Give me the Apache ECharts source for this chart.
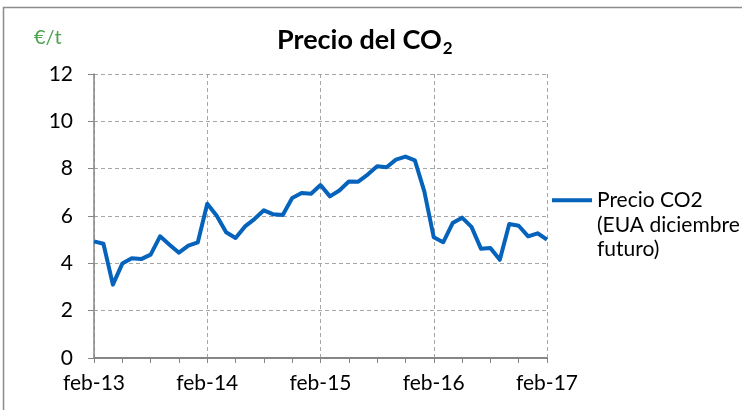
<!DOCTYPE html>
<html>
<head>
<meta charset="utf-8">
<script src="https://cdn.jsdelivr.net/npm/echarts@6/dist/echarts.min.js"></script>
<style>
    html, body { margin: 0; padding: 0; background: #fff; }
    #chart { width: 742px; height: 410px; }
</style>
</head>
<body>
<div id="chart"></div>
<script>
    // meses feb-13 .. feb-17
    var categorias = [
        'feb-13','mar-13','abr-13','may-13','jun-13','jul-13','ago-13','sep-13','oct-13','nov-13','dic-13','ene-14',
        'feb-14','mar-14','abr-14','may-14','jun-14','jul-14','ago-14','sep-14','oct-14','nov-14','dic-14','ene-15',
        'feb-15','mar-15','abr-15','may-15','jun-15','jul-15','ago-15','sep-15','oct-15','nov-15','dic-15','ene-16',
        'feb-16','mar-16','abr-16','may-16','jun-16','jul-16','ago-16','sep-16','oct-16','nov-16','dic-16','ene-17',
        'feb-17'
    ];
    var precioCO2 = [
        4.93, 4.83, 3.10, 3.99, 4.21, 4.18, 4.37, 5.14, 4.79, 4.45, 4.75, 4.89,
        6.52, 6.01, 5.31, 5.07, 5.56, 5.87, 6.24, 6.07, 6.04, 6.76, 6.97, 6.94,
        7.31, 6.83, 7.08, 7.46, 7.45, 7.75, 8.10, 8.06, 8.38, 8.51, 8.35, 7.04,
        5.10, 4.89, 5.70, 5.93, 5.54, 4.62, 4.65, 4.15, 5.66, 5.59, 5.14, 5.27,
        5.00
    ];
    var serieNombre = 'Precio CO2\n(EUA diciembre\nfuturo)';
    var yTicks = { min: 0, max: 12, interval: 2 };

    var fuente = 'Lato';
    let myChart = echarts.init(document.getElementById('chart'));
    let option = {
        animation: false,
        textStyle: { fontFamily: fuente },
        graphic: [{
            type: 'rect',
            shape: { x: 3.5, y: 7.5, width: 800, height: 500 },
            style: { fill: 'none', stroke: '#8c8c8c', lineWidth: 1.5 },
            silent: true
        }],
        title: [{
            text: '{t|Precio del CO}{s|2}',
            left: 272,
            top: 19,
            textStyle: {
                rich: {
                    t: { fontFamily: fuente, fontSize: 27, fontWeight: 'bold', color: '#000' },
                    s: { fontFamily: fuente, fontSize: 17, fontWeight: 'bold', color: '#000', padding: [16, 0, 0, 1] }
                }
            }
        }, {
            text: '€/t',
            left: 29,
            top: 23,
            textStyle: { fontFamily: fuente, fontSize: 20, fontWeight: 'normal', color: '#4ea24e' }
        }],
        legend: {
            left: 552,
            top: 139,
            padding: 0,
            orient: 'vertical',
            icon: 'rect',
            itemWidth: 40,
            itemHeight: 4,
            itemGap: 5,
            formatter: function (name) { return '\n\n' + name; },
            textStyle: { fontFamily: fuente, fontSize: 21, lineHeight: 24.5, color: '#000' },
            data: [serieNombre]
        },
        grid: { left: 94, right: 195, top: 74, bottom: 52 },
        xAxis: {
            type: 'category',
            data: categorias,
            boundaryGap: false,
            axisLine: { lineStyle: { color: '#868686', width: 2 } },
            axisTick: {
                show: true,
                length: 5,
                interval: function (i) { return i % 3 === 0; },
                lineStyle: { color: '#868686', width: 1 }
            },
            axisLabel: {
                interval: 11,
                margin: 15,
                fontFamily: fuente,
                fontSize: 21,
                color: '#000'
            },
            splitLine: {
                show: true,
                interval: function (i) { return i % 12 === 0; },
                lineStyle: { color: '#a6a6a6', width: 1, type: [4, 3] }
            }
        },
        yAxis: {
            type: 'value',
            min: yTicks.min,
            max: yTicks.max,
            interval: yTicks.interval,
            axisLine: { show: true, lineStyle: { color: '#868686', width: 1.5 } },
            axisTick: { show: true, length: 6, lineStyle: { color: '#868686' } },
            axisLabel: { margin: 21, fontFamily: fuente, fontSize: 21, color: '#000' },
            splitLine: { lineStyle: { color: '#a6a6a6', width: 1, type: [4, 3] } }
        },
        series: [{
            name: serieNombre,
            type: 'line',
            data: precioCO2,
            showSymbol: false,
            symbol: 'none',
            color: '#0563bc',
            lineStyle: { width: 4, color: '#0563bc', join: 'round' }
        }]
    };
    myChart.setOption(option);
</script>
</body>
</html>
